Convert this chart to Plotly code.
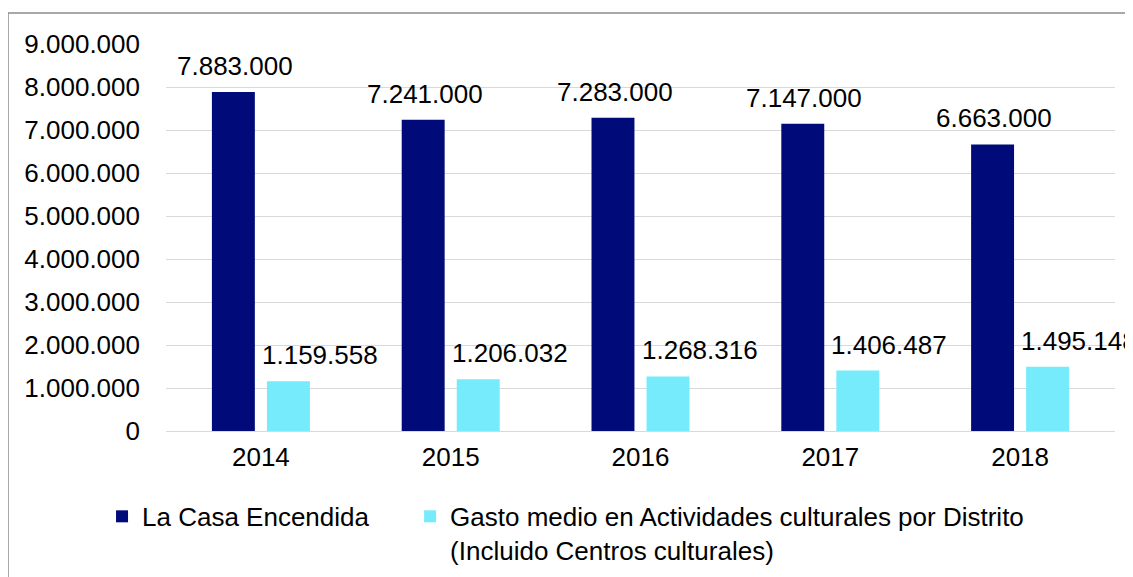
import plotly.graph_objects as go

years = ["2014", "2015", "2016", "2017", "2018"]
casa = [7883000, 7241000, 7283000, 7147000, 6663000]
gasto = [1159558, 1206032, 1268316, 1406487, 1495148]
casa_labels = ["7.883.000", "7.241.000", "7.283.000", "7.147.000", "6.663.000"]
gasto_labels = ["1.159.558", "1.206.032", "1.268.316", "1.406.487", "1.495.148"]
name_casa = "La Casa Encendida" + "\u00a0" * 5
name_gasto = "Gasto medio en Actividades culturales por Distrito<br>(Incluido Centros culturales)"

NAVY = "#000a78"
CYAN = "#75ebfb"
FONT = "Liberation Sans, Arial, sans-serif"
FS = 26

fig = go.Figure()
fig.add_trace(go.Bar(x=years, y=casa, name=name_casa, marker=dict(color=NAVY, line=dict(width=0))))
fig.add_trace(go.Bar(x=years, y=gasto, name=name_gasto, marker=dict(color=CYAN, line=dict(width=0))))

annotations = []
for i, (v, t) in enumerate(zip(casa, casa_labels)):
    annotations.append(dict(x=i, y=v, xref="x", yref="y", text=t, showarrow=False, xshift=-26, yshift=26,
                            yanchor="middle", xanchor="center", font=dict(size=FS, color="#000", family=FONT)))
for i, (v, t) in enumerate(zip(gasto, gasto_labels)):
    annotations.append(dict(x=i, y=v, xref="x", yref="y", text=t, showarrow=False, xshift=59, yshift=26,
                            yanchor="middle", xanchor="center", font=dict(size=FS, color="#000", family=FONT)))

fig.update_layout(
    width=1133, height=577,
    margin=dict(l=158, r=26, t=36, b=154, autoexpand=False),
    paper_bgcolor="white", plot_bgcolor="white",
    separators=",.",
    font=dict(family=FONT, size=FS, color="#000"),
    barmode="group", bargap=0.42, bargroupgap=0.22,
    showlegend=True,
    legend=dict(orientation="h", x=-0.0674, xanchor="left", y=-0.16, yanchor="top",
                valign="top", font=dict(size=FS, family=FONT, color="#000"),
                itemwidth=30, bgcolor="rgba(0,0,0,0)"),
    annotations=annotations,
    shapes=[dict(type="rect", xref="paper", yref="paper",
                 x0=-0.1665, x1=1.04, y0=-0.45, y1=1.080,
                 line=dict(color="#8c8c8c", width=1.5), fillcolor="rgba(0,0,0,0)", layer="below")],
)
fig.update_yaxes(range=[0, 9000000], dtick=1000000, tickformat=",d",
                 showgrid=True, gridcolor="#d9d9d9", gridwidth=1.3,
                 zeroline=True, zerolinecolor="#d9d9d9", zerolinewidth=1.3,
                 showline=False, ticks="", ticklabelstandoff=25,
                 tickfont=dict(size=FS, family=FONT, color="#000"))
fig.update_xaxes(type="category", range=[-0.5, 4.5], showline=False, ticks="", ticklabelstandoff=8,
                 tickfont=dict(size=FS, family=FONT, color="#000"))

fig.write_html("out.html")
